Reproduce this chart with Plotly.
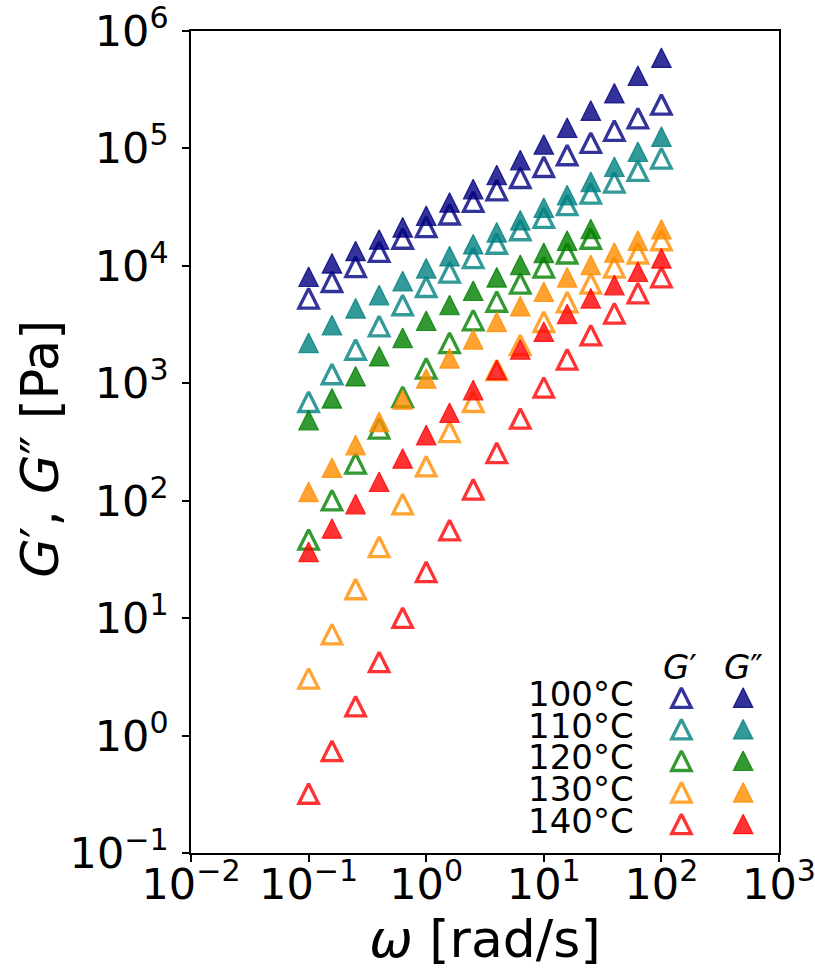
import plotly.graph_objects as go

# ---------------- data ----------------
omega = [0.1, 0.158, 0.251, 0.398, 0.631, 1.0, 1.58, 2.51, 3.98, 6.31,
         10.0, 15.8, 25.1, 39.8, 63.1, 100.0]

temps = ["100°C", "110°C", "120°C", "130°C", "140°C"]

G1_100 = [5.29e3, 7.32e3, 9.82e3, 1.32e4, 1.71e4, 2.15e4, 2.75e4, 3.52e4,
          4.42e4, 5.63e4, 6.98e4, 8.79e4, 1.12e5, 1.42e5, 1.81e5, 2.37e5]
G2_100 = [8.08e3, 1.05e4, 1.34e4, 1.68e4, 2.13e4, 2.67e4, 3.47e4, 4.51e4,
          5.94e4, 7.96e4, 1.08e5, 1.50e5, 2.10e5, 2.95e5, 4.16e5, 5.93e5]

G1_110 = [696, 1.20e3, 1.94e3, 3.07e3, 4.64e3, 6.64e3, 8.81e3, 1.17e4,
          1.55e4, 2.02e4, 2.57e4, 3.30e4, 4.14e4, 5.14e4, 6.46e4, 8.23e4]
G2_110 = [2.21e3, 3.13e3, 4.35e3, 5.64e3, 7.42e3, 9.52e3, 1.21e4, 1.53e4,
          1.93e4, 2.45e4, 3.13e4, 4.01e4, 5.20e4, 6.98e4, 9.37e4, 1.26e5]

G1_120 = [46.8, 101, 208, 413, 767, 1.34e3, 2.21e3, 3.45e3, 4.97e3,
          7.09e3, 9.71e3, 1.28e4, 1.71e4]
G2_120 = [486, 744, 1.15e3, 1.70e3, 2.44e3, 3.41e3, 4.64e3, 6.14e3,
          7.98e3, 1.02e4, 1.29e4, 1.64e4, 2.06e4]

G1_130 = [3.07, 7.31, 17.7, 40.5, 93.6, 197, 386, 696, 1.30e3, 2.12e3,
          3.34e3, 4.92e3, 7.09e3, 9.71e3, 1.28e4, 1.66e4]
G2_130 = [119, 191, 298, 470, 729, 1.10e3, 1.63e3, 2.37e3, 3.34e3, 4.54e3,
          6.02e3, 7.98e3, 1.02e4, 1.30e4, 1.64e4, 2.05e4]

G1_140 = [0.321, 0.741, 1.78, 4.24, 10.1, 24.8, 56.2, 125, 256, 502,
          923, 1.60e3, 2.57e3, 3.94e3, 5.87e3, 8.03e3]
G2_140 = [36.7, 58.1, 93.6, 145, 229, 362, 561, 875, 1.30e3, 1.94e3,
          2.75e3, 3.89e3, 5.29e3, 6.86e3, 8.91e3, 1.16e4]

storage = [G1_100, G1_110, G1_120, G1_130, G1_140]
loss = [G2_100, G2_110, G2_120, G2_130, G2_140]

x_tickvals = [1e-2, 1e-1, 1e0, 1e1, 1e2, 1e3]
x_ticktext = ["10<sup>\u22122</sup>", "10<sup>\u22121</sup>", "10<sup>0</sup>",
              "10<sup>1</sup>", "10<sup>2</sup>", "10<sup>3</sup>"]
y_tickvals = [1e-1, 1e0, 1e1, 1e2, 1e3, 1e4, 1e5, 1e6]
y_ticktext = ["10<sup>\u22121</sup>", "10<sup>0</sup>", "10<sup>1</sup>",
              "10<sup>2</sup>", "10<sup>3</sup>", "10<sup>4</sup>",
              "10<sup>5</sup>", "10<sup>6</sup>"]

x_title = "<i>\u03c9</i> [rad/s]"
y_title = "<i>G</i>\u2032, <i>G</i>\u2033 [Pa]"

# ---------------- style ----------------
colors_rgb = [(0, 0, 128), (0, 128, 128), (0, 128, 0), (255, 140, 0), (255, 0, 0)]
alpha = 0.8
FONT = "DejaVu Sans"

W, H = 815, 969
ML, MR, MT, MB = 191, 36, 31, 116
plot_h = H - MT - MB
msize = 19.5
YMIN, YMAX = -1, 6
# apex-anchored triangles: shift the marker axis so each triangle is centred on its point
shift_frac = (msize / 2.0) / plot_h
shift_dec = shift_frac * (YMAX - YMIN)


def rgba(c, a=alpha):
    return "rgba(%d,%d,%d,%.2f)" % (c[0], c[1], c[2], a)


fig = go.Figure()
# empty trace so the main (tick-bearing) subplot exists
fig.add_trace(go.Scatter(x=[], y=[], mode="markers", xaxis="x", yaxis="y",
                         showlegend=False, hoverinfo="skip"))

for i, t in enumerate(temps):
    c = rgba(colors_rgb[i])
    n = len(storage[i])
    fig.add_trace(go.Scatter(
        x=omega[:n], y=storage[i], mode="markers", xaxis="x", yaxis="y2",
        name=t + " G'", showlegend=False,
        marker=dict(symbol="arrow-up-open", size=msize, color=c,
                    line=dict(color=c, width=3.3))))
    fig.add_trace(go.Scatter(
        x=omega[:n], y=loss[i], mode="markers", xaxis="x", yaxis="y2",
        name=t + " G''", showlegend=False,
        marker=dict(symbol="arrow-up", size=msize, color=c,
                    line=dict(color=c, width=1.2))))

# ---------------- custom legend ----------------
leg_col_gp = 0.834
leg_col_gpp = 0.939
leg_row0 = 0.189
leg_step = 0.0384
leg_text_x = 0.757
leg_head_y = 0.226
leg_font = 34

for i, t in enumerate(temps):
    c = rgba(colors_rgb[i])
    yrow = leg_row0 - i * leg_step
    fig.add_trace(go.Scatter(
        x=[leg_col_gp], y=[yrow], mode="markers", xaxis="x2", yaxis="y3",
        showlegend=False, hoverinfo="skip",
        marker=dict(symbol="arrow-up-open", size=msize, color=c,
                    line=dict(color=c, width=3.3))))
    fig.add_trace(go.Scatter(
        x=[leg_col_gpp], y=[yrow], mode="markers", xaxis="x2", yaxis="y3",
        showlegend=False, hoverinfo="skip",
        marker=dict(symbol="arrow-up", size=msize, color=c,
                    line=dict(color=c, width=1.2))))
    fig.add_annotation(x=leg_text_x, y=yrow + 0.004, xref="paper", yref="paper",
                       text=t, showarrow=False, xanchor="right", yanchor="middle",
                       font=dict(family=FONT, size=leg_font, color="black"))

fig.add_annotation(x=leg_col_gp - 0.003, y=leg_head_y, xref="paper", yref="paper",
                   text="<i>G</i>\u2032", showarrow=False, xanchor="center",
                   yanchor="middle", font=dict(family=FONT, size=leg_font, color="black"))
fig.add_annotation(x=leg_col_gpp, y=leg_head_y, xref="paper", yref="paper",
                   text="<i>G</i>\u2033", showarrow=False, xanchor="center",
                   yanchor="middle", font=dict(family=FONT, size=leg_font, color="black"))

# y-axis title placed as a rotated annotation for exact placement
fig.add_annotation(x=-0.255, y=0.492, xref="paper", yref="paper", text=y_title,
                   textangle=-90, showarrow=False, xanchor="center", yanchor="middle",
                   font=dict(family=FONT, size=51, color="black"))

axis_common = dict(
    type="log", showgrid=False, zeroline=False, showline=True, linecolor="black",
    linewidth=1.5, mirror=True, ticks="outside", ticklen=7, tickwidth=1.5,
    tickcolor="black", tickmode="array", automargin=False,
    ticklabeloverflow="allow",
    tickfont=dict(family=FONT, size=43, color="black"),
)

fig.update_layout(
    width=W, height=H,
    margin=dict(l=ML, r=MR, t=MT, b=MB, pad=0),
    paper_bgcolor="white", plot_bgcolor="white",
    font=dict(family=FONT, color="black"),
    showlegend=False,
    xaxis=dict(axis_common, range=[-2, 3], tickvals=x_tickvals, ticktext=x_ticktext,
               anchor="y", ticklabelstandoff=-14,
               title=dict(text=x_title, standoff=12,
                          font=dict(family=FONT, size=52, color="black"))),
    yaxis=dict(axis_common, range=[YMIN, YMAX], tickvals=y_tickvals, ticktext=y_ticktext,
               anchor="x", ticklabelstandoff=5),
    yaxis2=dict(type="log", overlaying="y", anchor="x",
                range=[YMIN - shift_dec, YMAX - shift_dec],
                visible=False, showgrid=False, zeroline=False),
    xaxis2=dict(overlaying="x", anchor="y", range=[0, 1], visible=False,
                showgrid=False, zeroline=False),
    yaxis3=dict(overlaying="y", anchor="x", range=[-shift_frac, 1 - shift_frac],
                visible=False, showgrid=False, zeroline=False),
)

fig.write_html("out.html")
